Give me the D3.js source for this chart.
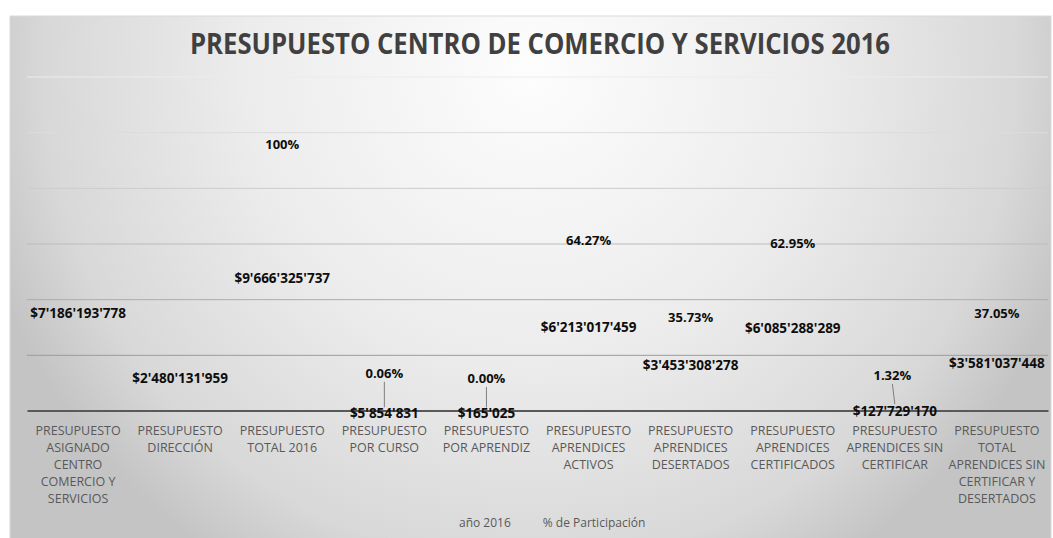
<!DOCTYPE html>
<html>
<head>
<meta charset="utf-8">
<script src="https://cdn.jsdelivr.net/npm/d3@7"></script>
<style>
  html, body { margin: 0; padding: 0; background: #ffffff; }
  svg { display: block; }
  text { font-family: "Open Sans", "DejaVu Sans", sans-serif; }
</style>
</head>
<body>
<svg id="chart" width="1053" height="538"></svg>
<script>
// ---------- data ----------
const title = "PRESUPUESTO CENTRO DE COMERCIO Y SERVICIOS 2016";
const categories = [
  "PRESUPUESTO ASIGNADO CENTRO COMERCIO Y SERVICIOS",
  "PRESUPUESTO DIRECCIÓN",
  "PRESUPUESTO TOTAL 2016",
  "PRESUPUESTO POR CURSO",
  "PRESUPUESTO POR APRENDIZ",
  "PRESUPUESTO APRENDICES ACTIVOS",
  "PRESUPUESTO APRENDICES DESERTADOS",
  "PRESUPUESTO APRENDICES CERTIFICADOS",
  "PRESUPUESTO APRENDICES SIN CERTIFICAR",
  "PRESUPUESTO TOTAL APRENDICES SIN CERTIFICAR Y DESERTADOS"
];
const seriesNames = ["año 2016", "% de Participación"];
const budget = [7186193778, 2480131959, 9666325737, 5854831, 165025,
                6213017459, 3453308278, 6085288289, 127729170, 3581037448];
const share = [null, null, 1.0, 0.000606, 0.000017,
               0.6427, 0.3573, 0.6295, 0.0132, 0.3705];
const moneyTicks = [0, 4e9, 8e9, 12e9, 16e9, 20e9, 24e9];

// labels moved off their points by leader lines (layout only)
const labelNudge = { 3: {dx: 0, dy: -40}, 4: {dx: 0, dy: -35}, 8: {dx: -2.5, dy: -34.5} };

// ---------- layout ----------
const W = 1053, H = 538;
const plot = { left: 27, right: 1048, top: 76.5, bottom: 410.5 };

const svg = d3.select("#chart");
const defs = svg.append("defs");
const grad = defs.append("radialGradient")
  .attr("id", "bg")
  .attr("cx", 0.5).attr("cy", 0.1).attr("r", 0.55)
  .attr("gradientTransform", "translate(0.5,0.1) scale(1,2) translate(-0.5,-0.1)");
grad.append("stop").attr("offset", 0).attr("stop-color", "#fdfdfd");
grad.append("stop").attr("offset", 0.5).attr("stop-color", "#ececec");
grad.append("stop").attr("offset", 0.85).attr("stop-color", "#d8d8d8");
grad.append("stop").attr("offset", 1).attr("stop-color", "#c4c4c4");

svg.append("rect")
  .attr("x", 10).attr("y", 16).attr("width", 1041).attr("height", 530)
  .attr("fill", "url(#bg)")
  .attr("stroke", "#d9d9d9").attr("stroke-width", 1);

// scales
const x = d3.scaleBand().domain(categories).range([plot.left, plot.right]).padding(0);
const yMoney = d3.scaleLinear().domain([0, 24e9]).range([plot.bottom, plot.top]);
const yPct = d3.scaleLinear().domain([0, 1.24]).range([plot.bottom, plot.top]);

// gridlines
const gridColor = d3.scaleLinear().domain([24e9, 4e9]).range(["#ececec", "#9c9c9c"]);
const grid = svg.append("g")
  .attr("transform", `translate(${plot.left},0)`)
  .call(d3.axisLeft(yMoney).tickValues(moneyTicks.filter(d => d > 0))
        .tickSize(-(plot.right - plot.left)).tickFormat(""));
grid.select(".domain").remove();
grid.selectAll(".tick line")
  .attr("stroke", d => gridColor(d))
  .attr("stroke-width", 1);

// title
svg.append("text")
  .attr("x", 540).attr("y", 54)
  .attr("text-anchor", "middle")
  .attr("font-size", 28).attr("font-weight", 700)
  .attr("fill", "#404040")
  .attr("textLength", 700).attr("lengthAdjust", "spacingAndGlyphs")
  .text(title);

// x axis
const xAxis = svg.append("g")
  .attr("transform", `translate(0,${plot.bottom})`)
  .call(d3.axisBottom(x).tickSize(0).tickSizeOuter(0));
xAxis.select(".domain").attr("stroke", "#595959").attr("stroke-width", 2);
xAxis.selectAll(".tick text").remove();

// wrapped category labels
const catG = svg.append("g");
const maxW = x.bandwidth() - 1;
categories.forEach((c, i) => {
  const t = catG.append("text")
    .attr("x", x(c) + x.bandwidth() / 2)
    .attr("y", 434.5)
    .attr("text-anchor", "middle")
    .attr("font-size", 12.5)
    .attr("fill", "#595959");
  const words = c.split(" ");
  let line = [];
  let ts = t.append("tspan").attr("x", x(c) + x.bandwidth() / 2).attr("dy", 0);
  words.forEach(w => {
    line.push(w);
    ts.text(line.join(" "));
    if (ts.node().getComputedTextLength() > maxW && line.length > 1) {
      line.pop();
      ts.text(line.join(" "));
      line = [w];
      ts = t.append("tspan").attr("x", x(c) + x.bandwidth() / 2).attr("dy", 17).text(w);
    }
  });
});

// formats
const loc = d3.formatLocale({ decimal: ".", thousands: "'", grouping: [3], currency: ["$", ""] });
const fMoney = loc.format("$,.0f");
const fPct = v => v === 1 ? d3.format(".0%")(v) : d3.format(".2%")(v);

// money data labels (series "año 2016", invisible marks)
svg.append("g").selectAll("text")
  .data(budget)
  .join("text")
  .attr("x", (d, i) => x(categories[i]) + x.bandwidth() / 2)
  .attr("y", d => yMoney(d) + 2.5)
  .attr("dominant-baseline", "central")
  .attr("text-anchor", "middle")
  .attr("font-size", 13.5).attr("font-weight", 700)
  .attr("fill", "#0d0d0d")
  .text(d => fMoney(d));

// percentage data labels (series "% de Participación")
const pctData = share.map((v, i) => ({ v, i })).filter(d => d.v !== null);
const pctG = svg.append("g");
pctData.forEach(d => {
  const cx = x(categories[d.i]) + x.bandwidth() / 2;
  const py = yPct(d.v);
  const n = labelNudge[d.i] || { dx: 0, dy: 0 };
  const lx = cx + n.dx, ly = py + 2.5 + n.dy;
  if (labelNudge[d.i]) {
    pctG.append("line")
      .attr("x1", lx).attr("y1", ly + 9)
      .attr("x2", cx).attr("y2", py - 3)
      .attr("stroke", "#7f7f7f").attr("stroke-width", 1);
  }
  pctG.append("text")
    .attr("x", lx).attr("y", ly)
    .attr("dominant-baseline", "central")
    .attr("text-anchor", "middle")
    .attr("font-size", 13).attr("font-weight", 700)
    .attr("fill", "#0d0d0d")
    .text(fPct(d.v));
});

// legend (series have no visible marks)
const leg = svg.append("g").attr("font-size", 12).attr("fill", "#595959");
const l1 = leg.append("text").attr("x", 459).attr("y", 527).text(seriesNames[0]);
const w1 = l1.node().getComputedTextLength();
leg.append("text").attr("x", 459 + w1 + 32).attr("y", 527).text(seriesNames[1]);
</script>
</body>
</html>
